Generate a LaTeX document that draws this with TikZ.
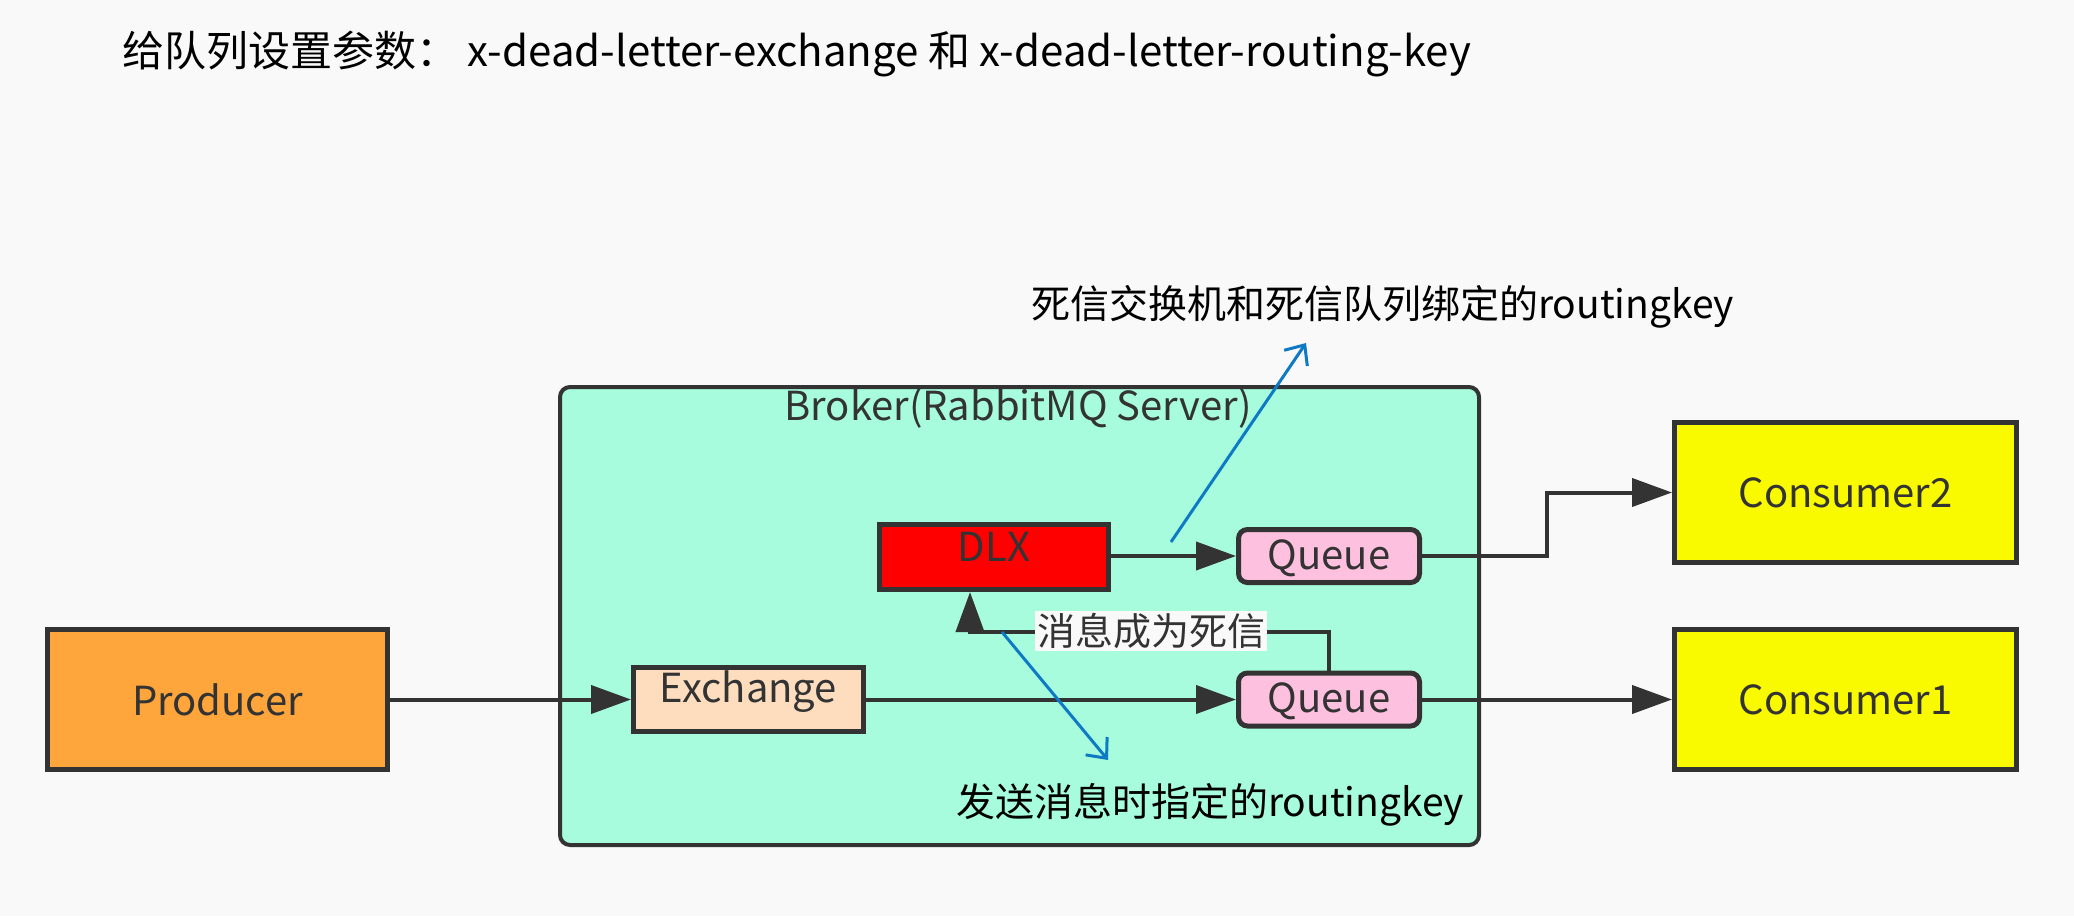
\documentclass[tikz,border=0pt]{standalone}
\usepackage{fontspec}
\setmainfont{Noto Sans CJK SC}
\usetikzlibrary{arrows.meta}
\definecolor{bg}{HTML}{F9F9F9}
\definecolor{edge}{HTML}{333333}
\definecolor{brokerfill}{HTML}{A6FCDC}
\definecolor{prodfill}{HTML}{FEA53C}
\definecolor{exchfill}{HTML}{FEDDBF}
\definecolor{dlxfill}{HTML}{FF0000}
\definecolor{queuefill}{HTML}{FEC0DF}
\definecolor{consfill}{HTML}{F9F900}
\definecolor{annoblue}{HTML}{0E7AC4}
\tikzset{
  box/.style={draw=edge, line width=5pt, inner sep=0pt, text=edge},
  qbox/.style={box, rounded corners=9pt, fill=queuefill, minimum width=181pt, minimum height=53pt},
  boxtext/.style={inner sep=0pt, text=edge, font=\fontsize{40pt}{46pt}\selectfont},
  conn/.style={draw=edge, line width=4pt, -{Triangle[length=40pt,width=28pt]}},
  blue/.style={draw=annoblue, line width=3pt, -{Straight Barb[length=16pt,width=28pt,line width=3pt]}},
  anno/.style={inner sep=0pt, text=black, font=\fontsize{39pt}{45pt}\selectfont},
}
\begin{document}
\begin{tikzpicture}[x=1pt,y=-1pt]
\fill[bg] (0,0) rectangle (2074,916);
\useasboundingbox (0,0) rectangle (2074,916);

% title
\node[anno, anchor=west, font=\fontsize{42pt}{48pt}\selectfont] (title) at (122,54) {给队列设置参数：\ x-dead-letter-exchange 和 x-dead-letter-routing-key};

% broker
\draw[draw=edge, line width=4pt, fill=brokerfill, rounded corners=10pt] (560,387) rectangle (1479,845);
\node[boxtext] (brokerlabel) at (1018,408) {Broker(RabbitMQ Server)};

% boxes
\node[box, fill=prodfill, minimum width=340pt, minimum height=140pt] (prod) at (217.5,699.5) {};
\node[boxtext] (prodtext) at (prod.center) {Producer};
\node[box, fill=exchfill, minimum width=230pt, minimum height=64pt] (exch) at (748.5,699.5) {};
\node[boxtext] (exchtext) at ([yshift=8pt]exch.center) {Exchange};
\node[box, fill=dlxfill, minimum width=229pt, minimum height=65pt] (dlx) at (994,557) {};
\node[boxtext] (dlxtext) at ([yshift=10pt]dlx.center) {DLX};
\node[qbox] (q2) at (1329,556) {};
\node[boxtext] (q2text) at ([yshift=-2pt]q2.center) {Queue};
\node[qbox] (q1) at (1329,699.5) {};
\node[boxtext] (q1text) at ([yshift=-2pt]q1.center) {Queue};
\node[box, fill=consfill, minimum width=342pt, minimum height=140pt] (c2) at (1845.5,492.5) {};
\node[boxtext] (c2text) at (c2.center) {Consumer2};
\node[box, fill=consfill, minimum width=342pt, minimum height=140pt] (c1) at (1845.5,699.5) {};
\node[boxtext] (c1text) at (c1.center) {Consumer1};

% connectors
\coordinate (turn) at (1547,500);
\coordinate (dl) at (970,632);
\draw[conn] (prod.east) -- (exch.west);
\draw[conn] (exch.east) -- (q1.west);
\draw[conn] (dlx.east |- q2.west) -- (q2.west);
\draw[conn] (q2.east) -- (q2.east -| turn) |- (c2.west);
\draw[conn] (q1.east) -- (c1.west);
\draw[conn] (q1.north) |- (dl) -- (dl |- dlx.south);
\node[inner sep=2pt, fill=bg, text=edge, font=\fontsize{38pt}{44pt}\selectfont] (dead) at (1151,631) {消息成为死信};

% annotations
\node[anno, anchor=west] (ann1) at (1031,307) {死信交换机和死信队列绑定的routingkey};
\node[anno, anchor=west] (ann2) at (956,805) {发送消息时指定的routingkey};
\coordinate (b1s) at (1171,542);
\coordinate (b1e) at (1306,343);
\coordinate (b2s) at (1002,632);
\coordinate (b2e) at (1108,760);
\draw[blue] (b1s) -- (b1e);
\draw[blue] (b2s) -- (b2e);
\end{tikzpicture}
\end{document}
